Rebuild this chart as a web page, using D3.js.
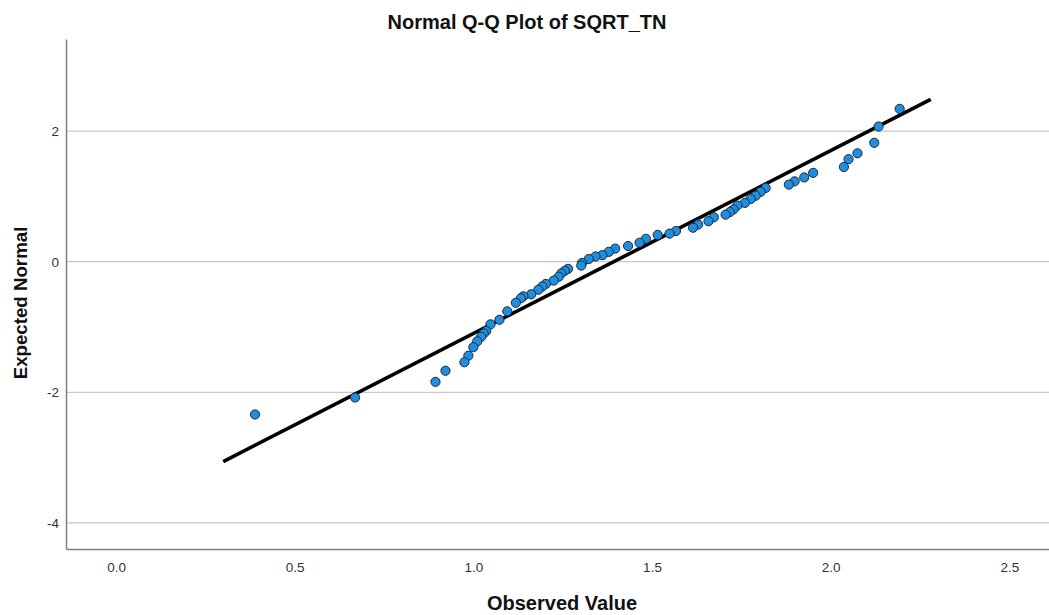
<!DOCTYPE html>
<html>
<head>
<meta charset="utf-8">
<script src="https://cdn.jsdelivr.net/npm/d3@7"></script>
<style>
  html, body { margin: 0; padding: 0; background: #fff; }
  svg { display: block; font-family: "Liberation Sans", Arial, sans-serif; }
</style>
</head>
<body>
<svg id="chart" width="1049" height="615"></svg>
<script>
// ---- Data ----
const observed = [2.193, 2.134, 2.122, 2.075, 2.050, 2.037, 1.951, 1.926, 1.899, 1.883,
  1.818, 1.804, 1.790, 1.776, 1.760, 1.739, 1.728, 1.718, 1.706, 1.673,
  1.658, 1.629, 1.615, 1.567, 1.549, 1.516, 1.483, 1.465, 1.433, 1.397,
  1.379, 1.361, 1.342, 1.323, 1.304, 1.302, 1.265, 1.256, 1.246, 1.239,
  1.225, 1.203, 1.193, 1.182, 1.162, 1.140, 1.133, 1.119, 1.095, 1.073,
  1.048, 1.036, 1.029, 1.022, 1.011, 1.000, 0.986, 0.975, 0.922, 0.894,
  0.669, 0.389];
const expected = [2.34, 2.07, 1.82, 1.66, 1.57, 1.45, 1.36, 1.29, 1.23, 1.18,
  1.13, 1.07, 1.01, 0.96, 0.90, 0.86, 0.80, 0.76, 0.72, 0.68,
  0.62, 0.57, 0.52, 0.47, 0.43, 0.41, 0.35, 0.29, 0.24, 0.20,
  0.15, 0.10, 0.08, 0.04, -0.02, -0.06, -0.11, -0.14, -0.18, -0.23,
  -0.29, -0.34, -0.38, -0.43, -0.50, -0.53, -0.56, -0.63, -0.76, -0.89,
  -0.96, -1.06, -1.10, -1.15, -1.22, -1.31, -1.44, -1.54, -1.67, -1.84,
  -2.08, -2.34];
const refLineMean = 1.393;
const refLineSd = 0.357;
const refLineX = [0.30, 2.28];
const xTicks = [0.0, 0.5, 1.0, 1.5, 2.0, 2.5];
const yTicks = [-4, -2, 0, 2];
const titleText = "Normal Q-Q Plot of SQRT_TN";
const xLabel = "Observed Value";
const yLabel = "Expected Normal";

// ---- Layout ----
const svg = d3.select("#chart");
const mLeft = 66, mRight = 1049, mTop = 39, mBottom = 549;

const x = d3.scaleLinear().domain([-0.14, 2.611]).range([mLeft, mRight]);
const y = d3.scaleLinear().domain([-4.40, 3.41]).range([mBottom, mTop]);

// gridlines
svg.append("g")
  .selectAll("line")
  .data(yTicks)
  .join("line")
  .attr("x1", mLeft).attr("x2", mRight)
  .attr("y1", d => y(d)).attr("y2", d => y(d))
  .attr("stroke", "#c8c8c8").attr("stroke-width", 1.3);

// axes
const xAxis = d3.axisBottom(x).tickValues(xTicks).tickFormat(d3.format(".1f")).tickSize(0).tickPadding(13);
const gx = svg.append("g").attr("transform", `translate(0,${mBottom})`).call(xAxis);
gx.select(".domain").attr("stroke", "#808080").attr("stroke-width", 1.5);
gx.selectAll("text").attr("font-size", 13.5).attr("fill", "#333").attr("font-family", "Liberation Sans, Arial, sans-serif");

const yAxis = d3.axisLeft(y).tickValues(yTicks).tickFormat(d => String(d)).tickSize(0).tickPadding(7);
const gy = svg.append("g").attr("transform", `translate(${mLeft},0)`).call(yAxis);
gy.select(".domain").attr("stroke", "#808080").attr("stroke-width", 1.5);
gy.selectAll("text").attr("font-size", 13.5).attr("fill", "#333").attr("font-family", "Liberation Sans, Arial, sans-serif");

// reference line
const lineData = refLineX.map(v => [v, (v - refLineMean) / refLineSd]);
svg.append("path")
  .datum(lineData)
  .attr("d", d3.line().x(d => x(d[0])).y(d => y(d[1])))
  .attr("stroke", "#000").attr("stroke-width", 3.6).attr("fill", "none");

// points
const pts = observed.map((v, i) => ({ o: v, e: expected[i] }));
svg.append("g")
  .selectAll("circle")
  .data(pts)
  .join("circle")
  .attr("cx", d => x(d.o))
  .attr("cy", d => y(d.e))
  .attr("r", 4.6)
  .attr("fill", "#1e8ee0")
  .attr("stroke", "#1b2a3a")
  .attr("stroke-width", 1);

// title and labels
svg.append("text")
  .attr("x", 527).attr("y", 29)
  .attr("text-anchor", "middle")
  .attr("font-size", 20).attr("font-weight", "bold").attr("fill", "#111")
  .text(titleText);

svg.append("text")
  .attr("x", 562).attr("y", 610)
  .attr("text-anchor", "middle")
  .attr("font-size", 20).attr("font-weight", "bold").attr("fill", "#111")
  .text(xLabel);

svg.append("text")
  .attr("transform", `translate(27,303) rotate(-90)`)
  .attr("text-anchor", "middle")
  .attr("font-size", 18.7).attr("font-weight", "bold").attr("fill", "#111")
  .text(yLabel);
</script>
</body>
</html>
